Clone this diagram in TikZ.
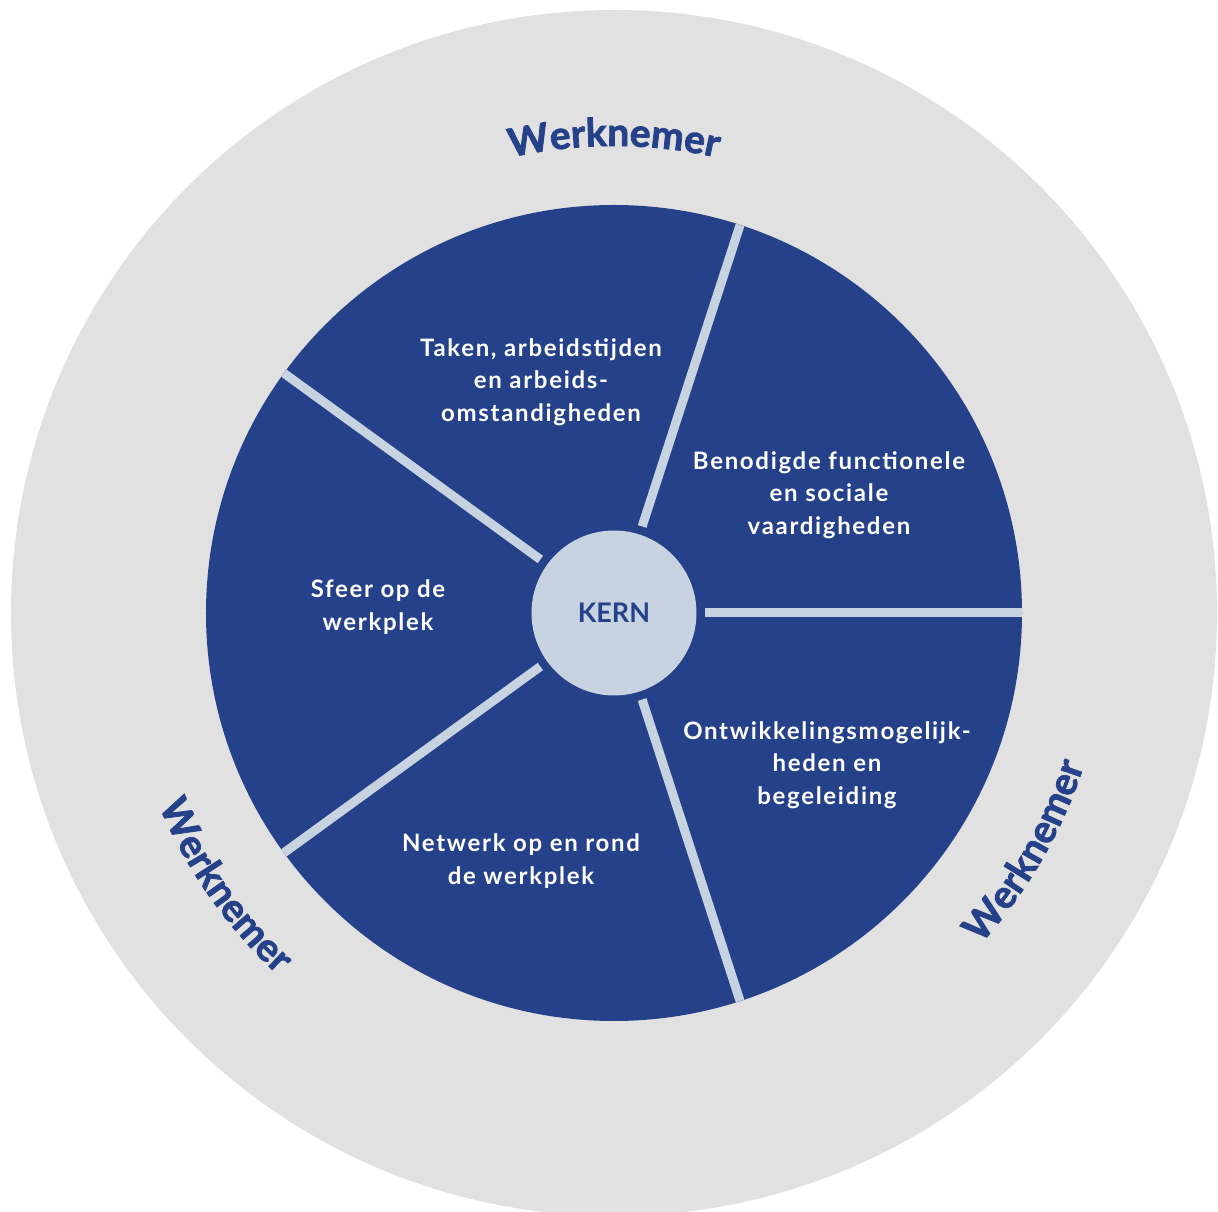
\documentclass[tikz,border=0pt]{standalone}
\usepackage{fontspec}
\setmainfont{Lato}
\newfontfamily\heavyfont[FakeBold=2]{Lato}
\usetikzlibrary{decorations.text}
\definecolor{wblue}{RGB}{37,65,137}
\definecolor{wgrey}{RGB}{225,225,225}
\definecolor{wlight}{RGB}{200,211,225}
\newcommand\werkfont{\heavyfont\bfseries\fontsize{39}{39}\selectfont}
\begin{document}
\begin{tikzpicture}[x=1pt,y=1pt,
  segtext/.style={text=white, font=\bfseries\fontsize{24}{32.5}\selectfont\addfontfeatures{LetterSpace=7}, align=center},
  sepline/.style={draw=wlight, line width=9pt},
  curved/.style={decorate, decoration={text along path, text={|\werkfont|Werknemer}, text align=center, text color=wblue}}
]
\useasboundingbox (-614,-599) rectangle (604,613);
\begin{scope}
\clip (-614,-599) rectangle (604,613);
\fill[wgrey] (0,0) circle (603);
\end{scope}
\fill[wblue] (0,0) circle (408);
\foreach \a in {0,72,144,216,288} {
  \coordinate (in\a) at (\a:91);
  \coordinate (out\a) at (\a:408);
  \draw[sepline] (in\a) -- (out\a);
}
\node[circle, fill=wlight, minimum size=165pt, inner sep=0pt, text=wblue,
  font=\bfseries\fontsize{27}{27}\selectfont] (kern) at (0,0) {KERN};

\node[segtext] (taken) at (-73,231) {Taken, arbeidstijden\\en arbeids-\\omstandigheden};
\node[segtext] (benod) at (215,118) {Benodigde functionele\\en sociale\\vaardigheden};
\node[segtext] (ontw) at (213,-152) {Ontwikkelingsmogelijk-\\heden en\\begeleiding};
\node[segtext] (netw) at (-93,-248) {Netwerk op en rond\\de werkplek};
\node[segtext] (sfeer) at (-236,6) {Sfeer op de\\werkplek};

\path[curved] (105:467) arc[start angle=105, end angle=75, radius=467];
\path[curved] (198:494) arc[start angle=198, end angle=232, radius=494];
\path[curved] (-47:494) arc[start angle=-47, end angle=-13, radius=494];
\end{tikzpicture}
\end{document}
